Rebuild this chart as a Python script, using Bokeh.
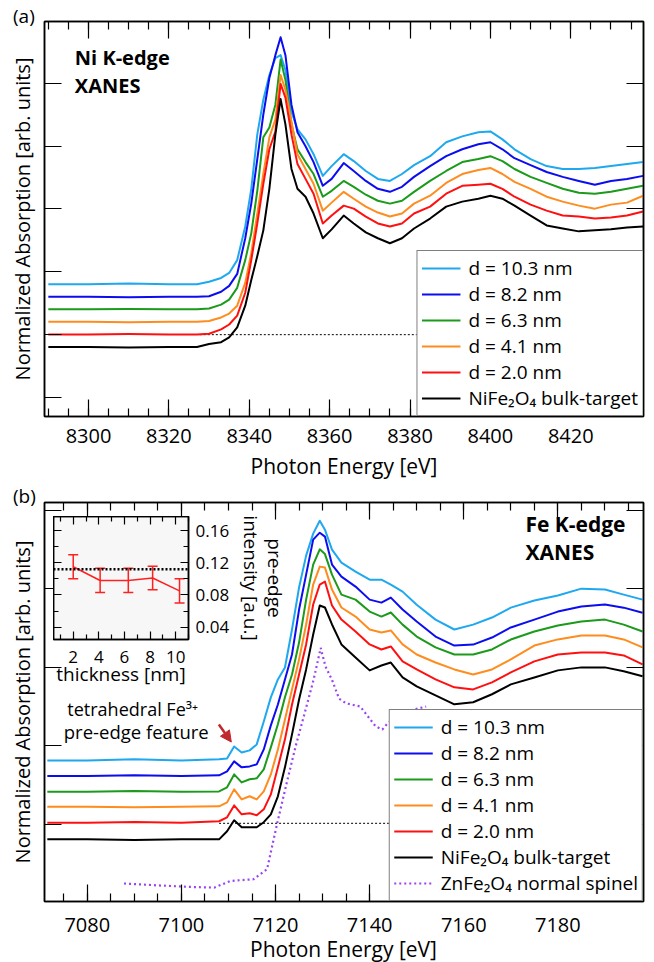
from bokeh.plotting import figure
from bokeh.models import (Range1d, LinearAxis, FixedTicker, Legend, LegendItem,
                          Label, Arrow, NormalHead, Whisker, TeeHead, Div,
                          ColumnDataSource, Span, GridBox, CustomJSTickFormatter)
from bokeh.core.properties import value
from bokeh.embed import file_html
from bokeh.resources import INLINE

FONT = "Open Sans"

# ---------------- Panel (a): Ni K-edge XANES ----------------
energy_a = [8290, 8300, 8310, 8320, 8327, 8330, 8333, 8335, 8337, 8339, 8340.5, 8342, 8343.5,
            8345, 8346.5, 8347.8, 8349, 8350.5, 8352, 8354, 8356, 8358.3, 8360.5, 8363.5, 8366,
            8369, 8372, 8375, 8378, 8381, 8385, 8389, 8393, 8397, 8400, 8403, 8406, 8410, 8414,
            8418, 8422, 8426, 8430, 8434, 8438]
ni_d103 = [0.90, 0.90, 0.905, 0.90, 0.90, 0.919, 0.950, 0.990, 1.092, 1.360, 1.660, 2.094, 2.370,
           2.567, 2.701, 2.725, 2.606, 2.275, 2.133, 2.054, 1.936, 1.763, 1.841, 1.936, 1.881,
           1.802, 1.739, 1.723, 1.778, 1.849, 1.920, 2.031, 2.078, 2.110, 2.117, 2.054, 1.975,
           1.897, 1.841, 1.818, 1.818, 1.826, 1.841, 1.857, 1.873]
ni_d82 = [0.80, 0.80, 0.797, 0.80, 0.80, 0.804, 0.840, 0.887, 0.982, 1.266, 1.542, 1.897, 2.252,
          2.543, 2.725, 2.867, 2.725, 2.330, 2.110, 1.999, 1.873, 1.684, 1.739, 1.865, 1.802,
          1.723, 1.660, 1.636, 1.676, 1.755, 1.841, 1.920, 1.975, 2.015, 2.031, 1.975, 1.904,
          1.849, 1.794, 1.755, 1.723, 1.692, 1.723, 1.739, 1.763]
ni_d63 = [0.70, 0.70, 0.703, 0.70, 0.70, 0.706, 0.737, 0.777, 0.871, 1.092, 1.305, 1.644, 2.070,
          2.149, 2.330, 2.690, 2.528, 2.173, 1.975, 1.873, 1.778, 1.597, 1.644, 1.723, 1.676,
          1.613, 1.565, 1.542, 1.565, 1.636, 1.723, 1.802, 1.873, 1.897, 1.920, 1.881, 1.818,
          1.755, 1.707, 1.660, 1.629, 1.621, 1.636, 1.660, 1.684]
ni_d41 = [0.60, 0.60, 0.597, 0.60, 0.60, 0.607, 0.635, 0.666, 0.729, 0.911, 1.147, 1.463, 1.778,
          2.070, 2.212, 2.567, 2.449, 2.196, 1.936, 1.818, 1.700, 1.486, 1.550, 1.636, 1.581,
          1.518, 1.471, 1.439, 1.463, 1.542, 1.605, 1.707, 1.778, 1.810, 1.826, 1.778, 1.715,
          1.660, 1.597, 1.558, 1.526, 1.502, 1.534, 1.550, 1.605]
ni_d20 = [0.50, 0.50, 0.503, 0.50, 0.50, 0.505, 0.540, 0.579, 0.650, 0.832, 1.092, 1.384, 1.700,
          1.975, 2.117, 2.496, 2.386, 2.094, 1.857, 1.739, 1.621, 1.384, 1.447, 1.526, 1.502,
          1.439, 1.384, 1.360, 1.384, 1.463, 1.518, 1.621, 1.684, 1.692, 1.700, 1.660, 1.597,
          1.534, 1.486, 1.447, 1.439, 1.423, 1.431, 1.447, 1.479]
ni_bulk = [0.40, 0.40, 0.395, 0.40, 0.40, 0.424, 0.438, 0.477, 0.556, 0.729, 0.934, 1.124, 1.329,
           1.660, 2.094, 2.375, 2.173, 1.818, 1.660, 1.597, 1.463, 1.266, 1.337, 1.447, 1.384,
           1.313, 1.266, 1.226, 1.266, 1.344, 1.423, 1.518, 1.558, 1.581, 1.605, 1.581, 1.526,
           1.447, 1.368, 1.344, 1.321, 1.329, 1.337, 1.352, 1.360]
ref_line_a_x = [8327.7, 8438]
ref_line_a_y = [0.498, 0.498]

# ---------------- Panel (b): Fe K-edge XANES ----------------
energy_b = [7071.5, 7080, 7090, 7100, 7108, 7109.7, 7111.2, 7112.8, 7114.5, 7116, 7117.5, 7119,
            7120.5, 7122, 7123.5, 7125, 7126.5, 7128, 7129.4, 7130.5, 7132, 7134, 7137, 7140,
            7142.5, 7144.5, 7147, 7150, 7154, 7158, 7162, 7166, 7170, 7175, 7180, 7185, 7190,
            7194, 7198]
fe_d103 = [0.907, 0.907, 0.914, 0.907, 0.914, 0.920, 0.996, 0.958, 0.971, 1.009, 1.155, 1.308,
           1.422, 1.498, 1.740, 2.007, 2.210, 2.350, 2.432, 2.375, 2.248, 2.165, 2.108, 2.057,
           2.057, 2.025, 1.981, 1.898, 1.803, 1.740, 1.771, 1.816, 1.879, 1.924, 1.956, 2.000,
           1.994, 1.962, 1.930]
fe_d82 = [0.808, 0.808, 0.812, 0.808, 0.812, 0.837, 0.901, 0.863, 0.869, 0.882, 0.977, 1.130,
          1.263, 1.422, 1.581, 1.867, 2.089, 2.312, 2.356, 2.331, 2.153, 2.076, 2.013, 1.930,
          1.911, 1.943, 1.867, 1.791, 1.695, 1.638, 1.644, 1.689, 1.753, 1.803, 1.854, 1.886,
          1.899, 1.879, 1.847]
fe_d63 = [0.708, 0.708, 0.712, 0.708, 0.710, 0.736, 0.818, 0.767, 0.787, 0.793, 0.850, 0.990,
          1.137, 1.309, 1.454, 1.657, 1.930, 2.153, 2.250, 2.220, 2.089, 1.962, 1.930, 1.854,
          1.822, 1.848, 1.771, 1.695, 1.626, 1.581, 1.581, 1.613, 1.676, 1.727, 1.765, 1.791,
          1.803, 1.771, 1.727]
fe_d41 = [0.613, 0.613, 0.609, 0.613, 0.615, 0.640, 0.723, 0.659, 0.679, 0.659, 0.710, 0.818,
          0.977, 1.168, 1.359, 1.550, 1.772, 2.026, 2.140, 2.134, 1.994, 1.880, 1.822, 1.740,
          1.721, 1.734, 1.645, 1.581, 1.530, 1.486, 1.454, 1.486, 1.550, 1.638, 1.677, 1.702,
          1.702, 1.677, 1.626]
fe_d20 = [0.511, 0.511, 0.516, 0.511, 0.520, 0.545, 0.621, 0.564, 0.571, 0.558, 0.596, 0.691,
          0.863, 1.041, 1.263, 1.454, 1.645, 1.899, 2.026, 2.045, 1.893, 1.803, 1.727, 1.645,
          1.613, 1.632, 1.537, 1.486, 1.423, 1.372, 1.359, 1.404, 1.467, 1.537, 1.581, 1.594,
          1.594, 1.575, 1.518]
fe_bulk = [0.405, 0.405, 0.401, 0.405, 0.405, 0.456, 0.526, 0.482, 0.482, 0.482, 0.514, 0.564,
           0.679, 0.863, 1.073, 1.295, 1.486, 1.708, 1.893, 1.880, 1.772, 1.645, 1.562, 1.480,
           1.511, 1.530, 1.435, 1.378, 1.321, 1.264, 1.277, 1.328, 1.391, 1.435, 1.480, 1.499,
           1.499, 1.474, 1.442]
energy_zn = [7087.8, 7095, 7102, 7107, 7110.4, 7112.5, 7115.3, 7118.2, 7120.4, 7122.5, 7124.3,
             7126.3, 7128.1, 7129.6, 7130.6, 7132, 7133.5, 7135, 7138, 7141.3, 7142.7, 7144,
             7148, 7152]
zn_normal = [0.124, 0.112, 0.102, 0.098, 0.140, 0.145, 0.151, 0.215, 0.513, 0.780, 1.000, 1.220,
             1.422, 1.623, 1.506, 1.420, 1.300, 1.270, 1.250, 1.123, 1.104, 1.149, 1.220, 1.250]
ref_line_b_x = [7108, 7198]
ref_line_b_y = [0.507, 0.507]

# ---------------- Inset: pre-edge intensity ----------------
thickness = [2.0, 4.1, 6.3, 8.2, 10.3]
pre_edge = [0.115, 0.098, 0.098, 0.101, 0.085]
pre_edge_err = [0.015, 0.015, 0.015, 0.0145, 0.015]
bulk_pre_edge = 0.112

labels = ["d = 10.3 nm", "d = 8.2 nm", "d = 6.3 nm", "d = 4.1 nm", "d = 2.0 nm",
          "NiFe\u2082O\u2084 bulk-target"]
zn_label = "ZnFe\u2082O\u2084 normal spinel"
colors = ["#1ea8f0", "#0c0cf0", "#1b9a1b", "#ff8c1e", "#ff1010", "#000000"]
zn_color = "#9b45f2"

xticks_a = [8300, 8320, 8340, 8360, 8380, 8400, 8420]
xminor_a = list(range(8290, 8440, 5))
xticks_b = [7080, 7100, 7120, 7140, 7160, 7180]
xminor_b = list(range(7075, 7200, 5))
yticks_a = [0, 0.5, 1.0, 1.5, 2.0, 2.5]
yticks_b = [0.5, 1.0, 1.5, 2.0, 2.5]

BLANK = CustomJSTickFormatter(code="return ''")


def style_axis(ax, show_labels, tick_in, minor_in, label_size="20px", label_standoff=9,
               axis_label=None, axis_label_size="20px", axis_label_standoff=0):
    ax.axis_line_color = "black"
    ax.axis_line_width = 1.5
    ax.major_tick_in = tick_in
    ax.major_tick_out = 0
    ax.minor_tick_in = minor_in
    ax.minor_tick_out = 0
    ax.major_tick_line_color = "black"
    ax.minor_tick_line_color = "black"
    ax.major_tick_line_width = 1.2
    ax.minor_tick_line_width = 1.2
    ax.major_label_text_font = FONT
    ax.major_label_text_color = "black"
    ax.axis_label_text_font = FONT
    ax.axis_label_text_font_style = "normal"
    ax.axis_label_text_color = "black"
    ax.axis_label_text_font_size = axis_label_size
    if show_labels:
        ax.major_label_text_font_size = label_size
        ax.major_label_standoff = label_standoff
    else:
        ax.formatter = BLANK
        ax.major_label_text_font_size = "1px"
        ax.major_label_standoff = 0
    if axis_label is not None:
        ax.axis_label = axis_label
        ax.axis_label_standoff = axis_label_standoff


def main_figure(xr, yr, xt, xm, yt, top_border, bottom_border, tick_standoff, xlabel):
    p = figure(frame_width=599, frame_height=399, x_range=Range1d(*xr), y_range=Range1d(*yr),
               output_backend="svg", toolbar_location=None,
               min_border_left=44, min_border_right=11, min_border_top=top_border,
               min_border_bottom=bottom_border)
    p.xgrid.visible = False
    p.ygrid.visible = False
    p.outline_line_color = "black"
    p.outline_line_width = 1.5
    p.background_fill_color = "white"
    p.border_fill_color = "white"
    xtick = FixedTicker(ticks=xt, minor_ticks=xm)
    ytick = FixedTicker(ticks=yt, minor_ticks=[])
    p.xaxis.ticker = xtick
    p.yaxis.ticker = ytick
    p.add_layout(LinearAxis(ticker=xtick), "above")
    p.add_layout(LinearAxis(ticker=ytick), "right")
    style_axis(p.below[0], True, 17, 8, label_standoff=tick_standoff,
               axis_label=xlabel, axis_label_size="21px", axis_label_standoff=6)
    style_axis(p.left[0], False, 17, 0, axis_label="Normalized Absorption [arb. units]",
               axis_label_standoff=9)
    style_axis(p.above[0], False, 17, 8)
    style_axis(p.right[0], False, 17, 0)
    return p


def make_legend(items):
    return Legend(items=items, location="bottom_right", margin=0, padding=4, spacing=0,
                  label_text_font=FONT, label_text_font_size="19px", label_text_color="black",
                  glyph_width=39, glyph_height=22, label_height=22, label_standoff=8,
                  border_line_color="black", border_line_width=1.5,
                  background_fill_color="white", background_fill_alpha=1.0)


# ---------- figure (a) ----------
pa = main_figure((8289.05, 8438.1), (-0.154, 2.993), xticks_a, xminor_a, yticks_a, 21, 62, 12,
                 "Photon Energy [eV]")
pa.line(ref_line_a_x, ref_line_a_y, line_color="black", line_width=1, line_dash="2 2")
series_a = [ni_d103, ni_d82, ni_d63, ni_d41, ni_d20, ni_bulk]
items_a = []
for ys, c, lab in zip(series_a, colors, labels):
    r = pa.line(energy_a, ys, line_color=c, line_width=2, line_join="round")
    items_a.append(LegendItem(label=lab, renderers=[r]))
pa.add_layout(make_legend(items_a))
pa.add_layout(Label(x=8296.6, y=2.599, text="Ni K-edge", text_font=FONT, text_font_size="20px",
                    text_font_style="bold", text_color="black"))
pa.add_layout(Label(x=8296.6, y=2.378, text="XANES", text_font=FONT, text_font_size="20px",
                    text_font_style="bold", text_color="black"))

# ---------- figure (b) ----------
pb = main_figure((7070.9, 7198.2), (0.0095, 2.548), xticks_b, xminor_b, yticks_b, 20, 60, 16,
                 None)
pb.line(ref_line_b_x, ref_line_b_y, line_color="black", line_width=1, line_dash="2 2")
series_b = [fe_d103, fe_d82, fe_d63, fe_d41, fe_d20, fe_bulk]
items_b = []
for ys, c, lab in zip(series_b, colors, labels):
    r = pb.line(energy_b, ys, line_color=c, line_width=2, line_join="round")
    items_b.append(LegendItem(label=lab, renderers=[r]))
rz = pb.line(energy_zn, zn_normal, line_color=zn_color, line_width=2.2, line_dash="2 3")
items_b.append(LegendItem(label=zn_label, renderers=[rz]))
pb.add_layout(make_legend(items_b))
pb.add_layout(Label(x=7173.1, y=2.322, text="Fe K-edge", text_font=FONT, text_font_size="21px",
                    text_font_style="bold", text_color="black"))
pb.add_layout(Label(x=7173.1, y=2.146, text="XANES", text_font=FONT, text_font_size="21px",
                    text_font_style="bold", text_color="black"))
pb.add_layout(Label(x=7075.75, y=1.157, text="tetrahedral Fe\u00b3\u207a", text_font=FONT,
                    text_font_size="18px", text_color="black"))
pb.add_layout(Label(x=7075.0, y=1.009, text="pre-edge feature", text_font=FONT,
                    text_font_size="18.5px", text_color="black"))
pb.add_layout(Arrow(end=NormalHead(size=11, fill_color="#c1272d", line_color="#c1272d"),
                    x_start=7107.95, y_start=1.136, x_end=7110.6, y_end=1.024,
                    line_color="#c1272d", line_width=2.5))

# ---------- inset ----------
ins = figure(frame_width=135, frame_height=123, x_range=Range1d(0.46, 11.0),
             y_range=Range1d(0.0247, 0.1774), output_backend="svg", toolbar_location=None,
             y_axis_location="right", min_border_left=0, min_border_top=0,
             min_border_right=0, min_border_bottom=0)
ins.xgrid.visible = False
ins.ygrid.visible = False
ins.background_fill_color = "#f7f7f7"
ins.border_fill_color = None
ins.outline_line_color = "black"
ins.outline_line_width = 1.5
ixt = FixedTicker(ticks=[2, 4, 6, 8, 10], minor_ticks=[1, 3, 5, 7, 9, 11])
iyt = FixedTicker(ticks=[0.04, 0.08, 0.12, 0.16], minor_ticks=[0.02, 0.06, 0.10, 0.14])
ins.xaxis.ticker = ixt
ins.yaxis.ticker = iyt
ins.add_layout(LinearAxis(ticker=ixt), "above")
ins.add_layout(LinearAxis(ticker=iyt), "left")
label_axis = LinearAxis(ticker=FixedTicker(ticks=[], minor_ticks=[]))
ins.add_layout(label_axis, "right")
style_axis(ins.below[0], True, 8, 5, label_size="17px", label_standoff=11,
           axis_label="thickness [nm]", axis_label_size="19px", axis_label_standoff=-5)
style_axis(ins.right[0], True, 8, 5, label_size="17px", label_standoff=7,
           axis_label="intensity [a.u.]", axis_label_size="19px", axis_label_standoff=6)
style_axis(label_axis, True, 0, 0, label_size="17px", label_standoff=0,
           axis_label="pre-edge", axis_label_size="19px", axis_label_standoff=-6)
label_axis.axis_line_color = None
style_axis(ins.above[0], False, 8, 5)
style_axis(ins.left[0], False, 8, 5)
ins.add_layout(Span(location=bulk_pre_edge, dimension="width", line_color="black",
                    line_width=2.5, line_dash="2 2"))
err_src = ColumnDataSource(data=dict(
    x=thickness,
    upper=[v + e for v, e in zip(pre_edge, pre_edge_err)],
    lower=[v - e for v, e in zip(pre_edge, pre_edge_err)]))
ins.add_layout(Whisker(source=err_src, base="x", upper="upper", lower="lower",
                       line_color="#ff2020", line_width=1.5,
                       upper_head=TeeHead(size=10, line_color="#ff2020", line_width=1.5),
                       lower_head=TeeHead(size=10, line_color="#ff2020", line_width=1.5)))
ins.line(thickness, pre_edge, line_color="#ff2020", line_width=1.5)

# ---------- panel tags and lower x-axis title ----------
tag_style = {"font-family": FONT, "font-size": "19px", "color": "black", "line-height": "20px"}
tag_a = Div(text="(a)", width=36, height=22, margin=(6, 0, 0, 13), styles=tag_style)
tag_b = Div(text="(b)", width=36, height=22, margin=(4, 0, 0, 13), styles=tag_style)
xlabel_b = Div(text="Photon Energy [eV]", width=599, height=18, margin=(224, 0, 0, 44),
               styles={"font-family": FONT, "font-size": "21px", "color": "black",
                       "line-height": "18px", "text-align": "center"})

grid = GridBox(children=[(pa, 0, 0, 1, 3), (pb, 1, 0, 3, 3), (ins, 2, 1, 1, 1),
                         (tag_a, 0, 0, 1, 1), (tag_b, 1, 0, 1, 1), (xlabel_b, 3, 0, 1, 3)],
               rows=["482px", "34px", "200px", "246px"], cols=["53px", "300px", "301px"])

open("out.html", "w").write(file_html(grid, INLINE))
